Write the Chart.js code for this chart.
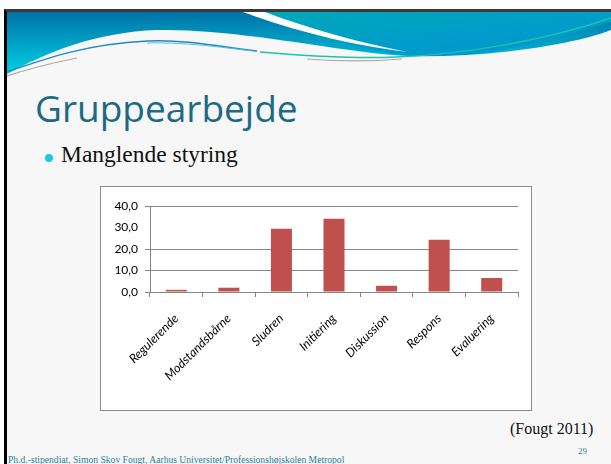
<!DOCTYPE html>
<html lang="da">
<head>
<meta charset="UTF-8">
<title>Gruppearbejde</title>
<script src="https://cdn.jsdelivr.net/npm/chart.js"></script>
<style>
  html, body { margin: 0; padding: 0; background: #fff; }
  body { width: 611px; height: 464px; position: relative; overflow: hidden; }
  .slide {
    position: absolute; left: 4px; top: 9px; width: 607px; height: 455px;
    background: #f7f7f7; border-left: 3px solid #000; border-top: 3px solid #3a3a3a;
    box-sizing: border-box;
  }
  .deco { position: absolute; left: 7px; top: 12px; }
  .title {
    position: absolute; left: 35px; top: 82px; margin: 0;
    font-family: "Open Sans", sans-serif; font-weight: 400; font-size: 37px;
    color: #1d6a85;
  }
  .bullet {
    position: absolute; left: 45px; top: 154px; width: 8px; height: 8px;
    border-radius: 50%; background: #1ec8df;
  }
  .point {
    position: absolute; left: 61px; top: 141px;
    font-family: "Liberation Serif", serif; font-size: 23.5px; color: #111;
  }
  .box {
    position: absolute; left: 100px; top: 186px; width: 432px; height: 225px;
    background: #fff; border: 1px solid #8c8c8c; box-sizing: border-box;
  }
  .ref {
    position: absolute; left: 510px; top: 420px;
    font-family: "Liberation Serif", serif; font-size: 16px; color: #111;
  }
  .foot {
    position: absolute; left: 8px; top: 454px; white-space: nowrap;
    font-family: "Liberation Serif", serif; font-size: 9.6px; color: #2a7fa3;
  }
  .page {
    position: absolute; left: 578px; top: 446px;
    font-family: "Liberation Serif", serif; font-size: 9px; color: #2a7fa3;
  }
</style>
</head>
<body>
<div class="slide"></div>
<svg class="deco" width="604" height="70" viewBox="0 0 604 70">
  <defs>
    <linearGradient id="leftBlue" x1="0" y1="0" x2="0" y2="1">
      <stop offset="0" stop-color="#0073a6"/>
      <stop offset="1" stop-color="#00dcec"/>
    </linearGradient>
    <linearGradient id="rightTeal" x1="0" y1="0" x2="1" y2="1">
      <stop offset="0" stop-color="#00a8b6"/>
      <stop offset="1" stop-color="#0094d8"/>
    </linearGradient>
  </defs>
  <rect x="0" y="0" width="604" height="70" fill="url(#leftBlue)"/>
  <path d="M236 0 C300 20 350 38 404 44 C460 50 540 30 604 10 L604 0 Z" fill="url(#rightTeal)"/>
  <path d="M236 0 L258 0 C300 16 350 30 400 40 C350 34 290 20 236 0 Z" fill="#ffffff"/>
  <path d="M0 62 C40 40 90 20 150 18 C230 16 330 40 400 44 C470 46 560 35 604 18 L604 70 L0 70 Z" fill="#f7f7f7"/>
  <path d="M0 60 C40 46 80 32 140 29 C180 27 220 36 250 39" stroke="#1f8ac8" stroke-width="1.5" fill="none"/>
  <path d="M140 31 C180 30 220 36 245 39" stroke="#5dbde0" stroke-width="1" fill="none"/>
  <path d="M253 40 C300 44 350 47 390 45 C460 42 540 28 604 6" stroke="#1fc3a6" stroke-width="1.5" fill="none"/>
  <path d="M0 64 C30 54 50 50 70 46" stroke="#a8a8a8" stroke-width="1.2" fill="none"/>
  <path d="M300 47 C340 50 370 49 395 47" stroke="#a8a8a8" stroke-width="1.2" fill="none"/>
</svg>
<h1 class="title">Gruppearbejde</h1>
<div class="bullet"></div>
<div class="point">Manglende styring</div>
<div class="box"><canvas id="chart" width="430" height="223"></canvas></div>
<div class="ref">(Fougt 2011)</div>
<div class="page">29</div>
<div class="foot">Ph.d.-stipendiat, Simon Skov Fougt, Aarhus Universitet/Professionshøjskolen Metropol</div>
<script>
const categories = ['Regulerende', 'Modstandsbårne', 'Sludren', 'Initiering', 'Diskussion', 'Respons', 'Evaluering'];
const values = [1.0, 2.0, 29.4, 34.1, 2.9, 24.3, 6.5];
const yTicks = [0, 10, 20, 30, 40];

const gridColor = '#868686';

new Chart(document.getElementById('chart'), {
  type: 'bar',
  data: {
    labels: categories,
    datasets: [{
      data: values,
      backgroundColor: '#c0504d',
      borderWidth: 0,
      barPercentage: 1,
      categoryPercentage: 0.4
    }]
  },
  options: {
    responsive: false,
    animation: false,
    layout: { padding: { left: 0, right: 13, top: 19, bottom: 0 } },
    plugins: { legend: { display: false }, tooltip: { enabled: false } },
    scales: {
      x: {
        grid: { display: true, drawOnChartArea: false, drawTicks: true, tickLength: 5, offset: true, color: gridColor },
        border: { display: true, color: gridColor },
        ticks: {
          minRotation: 45, maxRotation: 45, padding: 14,
          color: '#000', font: { family: 'Lato', size: 12.5, style: 'italic' }
        },
        afterFit: s => { s.height = 118; }
      },
      y: {
        min: 0, max: 40,
        afterBuildTicks: s => { s.ticks = yTicks.map(v => ({ value: v })); },
        grid: {
          tickLength: 5,
          color: c => (c.tick && c.tick.value === 30) ? 'rgba(0,0,0,0)' : gridColor
        },
        border: { display: true, color: gridColor },
        ticks: {
          padding: 7, color: '#000',
          font: { family: 'Lato', size: 12 },
          callback: v => v.toFixed(1).replace('.', ',')
        },
        afterFit: s => { s.width = 49; }
      }
    }
  }
});
</script>
</body>
</html>
